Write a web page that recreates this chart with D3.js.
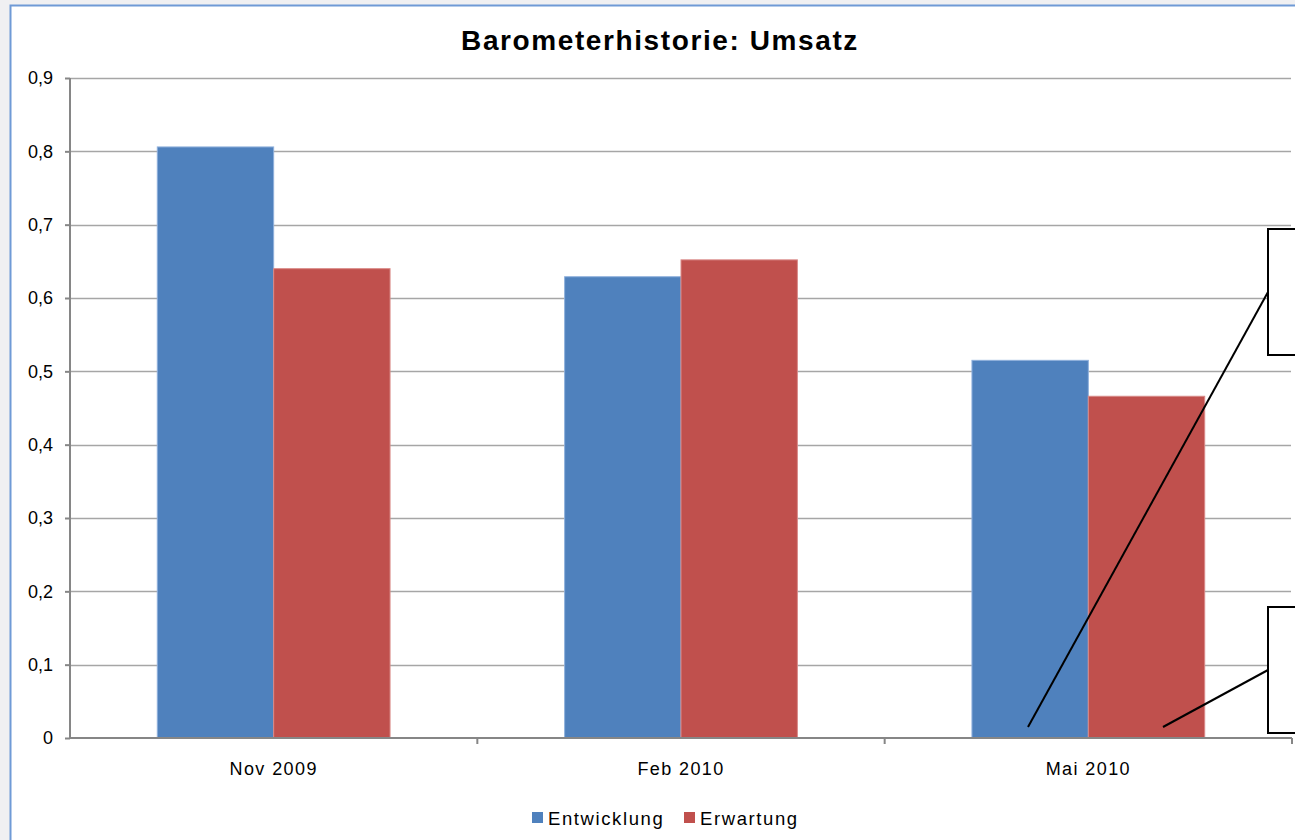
<!DOCTYPE html>
<html>
<head>
<meta charset="utf-8">
<title>Barometerhistorie: Umsatz</title>
<style>
  body { margin: 0; background: #f0f0f2; font-family: "Liberation Sans", Arial, sans-serif; }
  svg { display: block; }
  .grid line { stroke: #a6a6a6; stroke-width: 1.3; }
  .axis path, .axis line { stroke: #868686; stroke-width: 2; }
  .axis text { font-family: "Liberation Sans", Arial, sans-serif; fill: #000; }
</style>
</head>
<body>
<script src="https://cdn.jsdelivr.net/npm/d3@7"></script>
<script>
// Werte
var categories = ["Nov 2009", "Feb 2010", "Mai 2010"];
var seriesNames = ["Entwicklung", "Erwartung"];
var entwicklung = [0.806, 0.629, 0.515];
var erwartung = [0.640, 0.652, 0.466];
var yTicks = [0, 0.1, 0.2, 0.3, 0.4, 0.5, 0.6, 0.7, 0.8, 0.9];
var colors = ["#4f81bd", "#c0504d"];

var width = 1295,
    height = 840;

var margin = { left: 70, right: 3, top: 78, bottom: 102 };

var svg = d3.select("body").append("svg")
    .attr("width", width)
    .attr("height", height);

// Diagrammrahmen
svg.append("rect")
    .attr("x", 10.5).attr("y", 5.5)
    .attr("width", 1300).attr("height", 850)
    .attr("fill", "#fff")
    .attr("stroke", "#6f9ad6")
    .attr("stroke-width", 2);

svg.append("text")
    .attr("x", 660).attr("y", 50)
    .attr("text-anchor", "middle")
    .style("font-family", "'Liberation Sans', Arial, sans-serif")
    .style("font-size", "28px")
    .style("font-weight", "bold")
    .style("letter-spacing", "1.6px")
    .text("Barometerhistorie: Umsatz");

var x0 = d3.scaleBand()
    .domain(categories)
    .range([margin.left, width - margin.right])
    .paddingInner(0)
    .paddingOuter(0);

var x1 = d3.scaleBand()
    .domain(seriesNames)
    .range([0, x0.bandwidth()])
    .paddingInner(0)
    .paddingOuter(0.75);

var y = d3.scaleLinear()
    .domain([0, 0.9])
    .range([height - margin.bottom, margin.top]);

// Gitterlinien
svg.append("g")
    .attr("class", "grid")
    .selectAll("line")
    .data(yTicks.filter(function(d) { return d > 0; }))
    .enter().append("line")
    .attr("x1", margin.left).attr("x2", width - margin.right - 1)
    .attr("y1", function(d) { return Math.round(y(d)) + 0.5; })
    .attr("y2", function(d) { return Math.round(y(d)) + 0.5; });

var rows = categories.map(function(c, i) {
    return { cat: c, values: [entwicklung[i], erwartung[i]] };
});

svg.append("g")
    .selectAll("g")
    .data(rows)
    .enter().append("g")
    .attr("transform", function(d) { return "translate(" + x0(d.cat) + ",0)"; })
    .selectAll("rect")
    .data(function(d) { return d.values.map(function(v, j) { return { name: seriesNames[j], value: v, i: j }; }); })
    .enter().append("rect")
    .attr("x", function(d) { return x1(d.name); })
    .attr("width", x1.bandwidth())
    .attr("y", function(d) { return y(d.value); })
    .attr("height", function(d) { return y(0) - y(d.value); })
    .attr("fill", function(d) { return colors[d.i]; })
    .attr("stroke", function(d) { return d.i === 0 ? "#8fb0dc" : "#d98a88"; })
    .attr("stroke-width", 1);

// Y-Achse
var yAxis = svg.append("g")
    .attr("class", "axis")
    .attr("transform", "translate(" + margin.left + ",0)")
    .call(d3.axisLeft(y).tickValues(yTicks).tickSize(5).tickPadding(12)
        .tickFormat(function(d) { return d === 0 ? "0" : d3.format(".1f")(d).replace(".", ","); }));
yAxis.select(".domain").attr("d", "M0," + y(0.9) + "V" + y(0));
yAxis.selectAll("text").style("font-size", "18px");

// X-Achse
var xAxis = svg.append("g")
    .attr("class", "axis")
    .attr("transform", "translate(0," + y(0) + ")")
    .call(d3.axisBottom(x0).tickSize(0).tickPadding(24));
xAxis.select(".domain").attr("d", "M" + margin.left + ",0H" + (width - margin.right));
xAxis.selectAll("text").style("font-size", "18px").style("letter-spacing", "1.4px");
xAxis.selectAll(".sep")
    .data(categories)
    .enter().append("line")
    .attr("class", "sep")
    .attr("x1", function(d) { return x0(d) + x0.bandwidth(); })
    .attr("x2", function(d) { return x0(d) + x0.bandwidth(); })
    .attr("y1", 0).attr("y2", 6)
    .attr("stroke", "#a6a6a6").attr("stroke-width", 2);

// Legende
var legend = svg.append("g").attr("transform", "translate(532,818)");
var legendX = [0, 152];
seriesNames.forEach(function(n, i) {
    legend.append("rect")
        .attr("x", legendX[i]).attr("y", -6)
        .attr("width", 11).attr("height", 11)
        .attr("fill", colors[i]);
    legend.append("text")
        .attr("x", legendX[i] + 16).attr("y", 7)
        .style("font-family", "'Liberation Sans', Arial, sans-serif")
        .style("font-size", "18.5px")
        .style("letter-spacing", "1.6px")
        .text(n);
});

// Legendenfelder (abgeschnitten) mit Verbindungslinien
var callouts = [
    { box: [1268, 229, 126], from: [1028, 727], to: [1268, 292] },
    { box: [1268, 607, 126], from: [1163, 727], to: [1268, 670] }
];
callouts.forEach(function(c) {
    svg.append("line")
        .attr("x1", c.from[0]).attr("y1", c.from[1])
        .attr("x2", c.to[0]).attr("y2", c.to[1])
        .attr("stroke", "#000").attr("stroke-width", 2);
    svg.append("rect")
        .attr("x", c.box[0]).attr("y", c.box[1])
        .attr("width", 60).attr("height", c.box[2])
        .attr("fill", "#fff")
        .attr("stroke", "#000").attr("stroke-width", 2);
});
</script>
</body>
</html>
